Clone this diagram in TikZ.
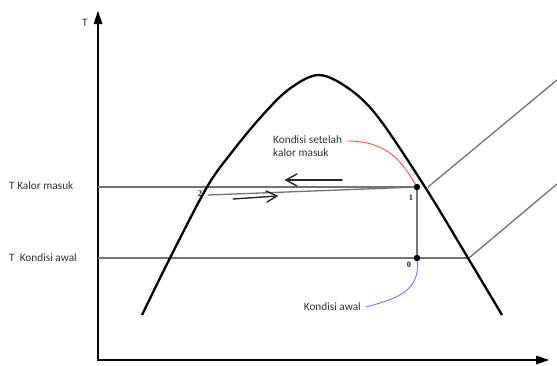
\documentclass[tikz,border=0pt]{standalone}
\usepackage{fontspec}
\setmainfont{Carlito}
\newfontfamily\numfont{Liberation Serif}
\begin{document}
\begin{tikzpicture}[x=1pt,y=-1pt,
  axis/.style={line width=2.2pt},
  tip/.style={fill=black},
  dome/.style={line width=2.3pt,line join=round},
  thinline/.style={draw=black!55,line width=1.3pt},
  lbl/.style={font=\fontsize{11.3}{13}\selectfont,text=black!80,inner sep=0pt},
  numlbl/.style={font=\numfont\bfseries\fontsize{8.5}{9}\selectfont,text=black!85,inner sep=0pt},
  dot/.style={circle,fill=black,inner sep=0pt,minimum size=6.5pt},
  flow/.style={draw=black!85,line width=1.4pt,line cap=round,line join=round}]
\useasboundingbox (0,0) rectangle (557,365);
\fill[white] (0,0) rectangle (557,365);
% axes
\coordinate (O) at (98,360);
\coordinate (ytip) at (98,11);
\coordinate (xtip) at (549,360);
\draw[axis] (98,361.1) -- (98,20);
\draw[axis] (O) -- (540,360);
\fill[tip] (ytip) -- (93.5,24) -- (102.5,24) -- cycle;
\fill[tip] (xtip) -- (536,355.5) -- (536,364.5) -- cycle;
\node[lbl] (Tlab) at (85,23) {T};
% key points
\coordinate (k0) at (98,187);
\coordinate (a0) at (98,258);
\coordinate (p1) at (417,187);
\coordinate (p0) at (417,258);
\coordinate (r2) at (208,195);
\coordinate (d1s) at (428,187);
\coordinate (d1e) at (557,80);
\coordinate (d2s) at (469,258);
\coordinate (d2e) at (557,184);
% thin lines
\draw[thinline] (k0) -- (p1);
\draw[thinline] (a0) -- (d2s);
\draw[thinline] (p1) -- (p0);
\draw[thinline] (r2) -- (p1);
\draw[thinline] (d1s) -- (d1e);
\draw[thinline] (d2s) -- (d2e);
% dome
\draw[dome] plot[smooth,tension=0.55] coordinates {(142,315) (170,258) (207,187) (232,152) (260,118) (288,90) (318,75) (348,88) (378,117) (425,187) (468,258) (502,315)};
% state points
\node[dot] (q1) at (p1) {};
\node[dot] (q0) at (p0) {};
% flow arrows
\coordinate (ua1) at (342,180);
\coordinate (ua2) at (286,180);
\coordinate (la1) at (233,199);
\coordinate (la2) at (277,196);
\draw[flow] (ua1) -- (ua2);
\draw[flow] (ua2) ++(11,-6) -- (ua2) -- ++(11,6);
\draw[flow] (la1) -- (la2);
\draw[flow] (la2) ++(-11,-5) -- (la2) -- ++(-10,6);
% labels
\node[lbl,anchor=west] (lk) at (9,186) {T Kalor masuk};
\node[lbl,anchor=west] (la) at (9,258) {T\ \ Kondisi awal};
\node[numlbl] (n2) at (200,194) {2};
\node[numlbl] (n1) at (411,198) {1};
\node[numlbl] (n0) at (409,265) {0};
\node[lbl,anchor=west,align=left] (ks) at (273,146) {Kondisi setelah\\kalor masuk};
\node[lbl,anchor=east] (ka) at (361,307) {Kondisi awal};
% callouts
\coordinate (rs) at (347,141);
\coordinate (bs) at (366,307);
\draw[red!70,line width=0.9pt] (rs) .. controls (388,141) and (402,162) .. (q1);
\draw[blue!55,line width=0.9pt] (q0) .. controls (420,292) and (395,299) .. (bs);
\end{tikzpicture}
\end{document}
